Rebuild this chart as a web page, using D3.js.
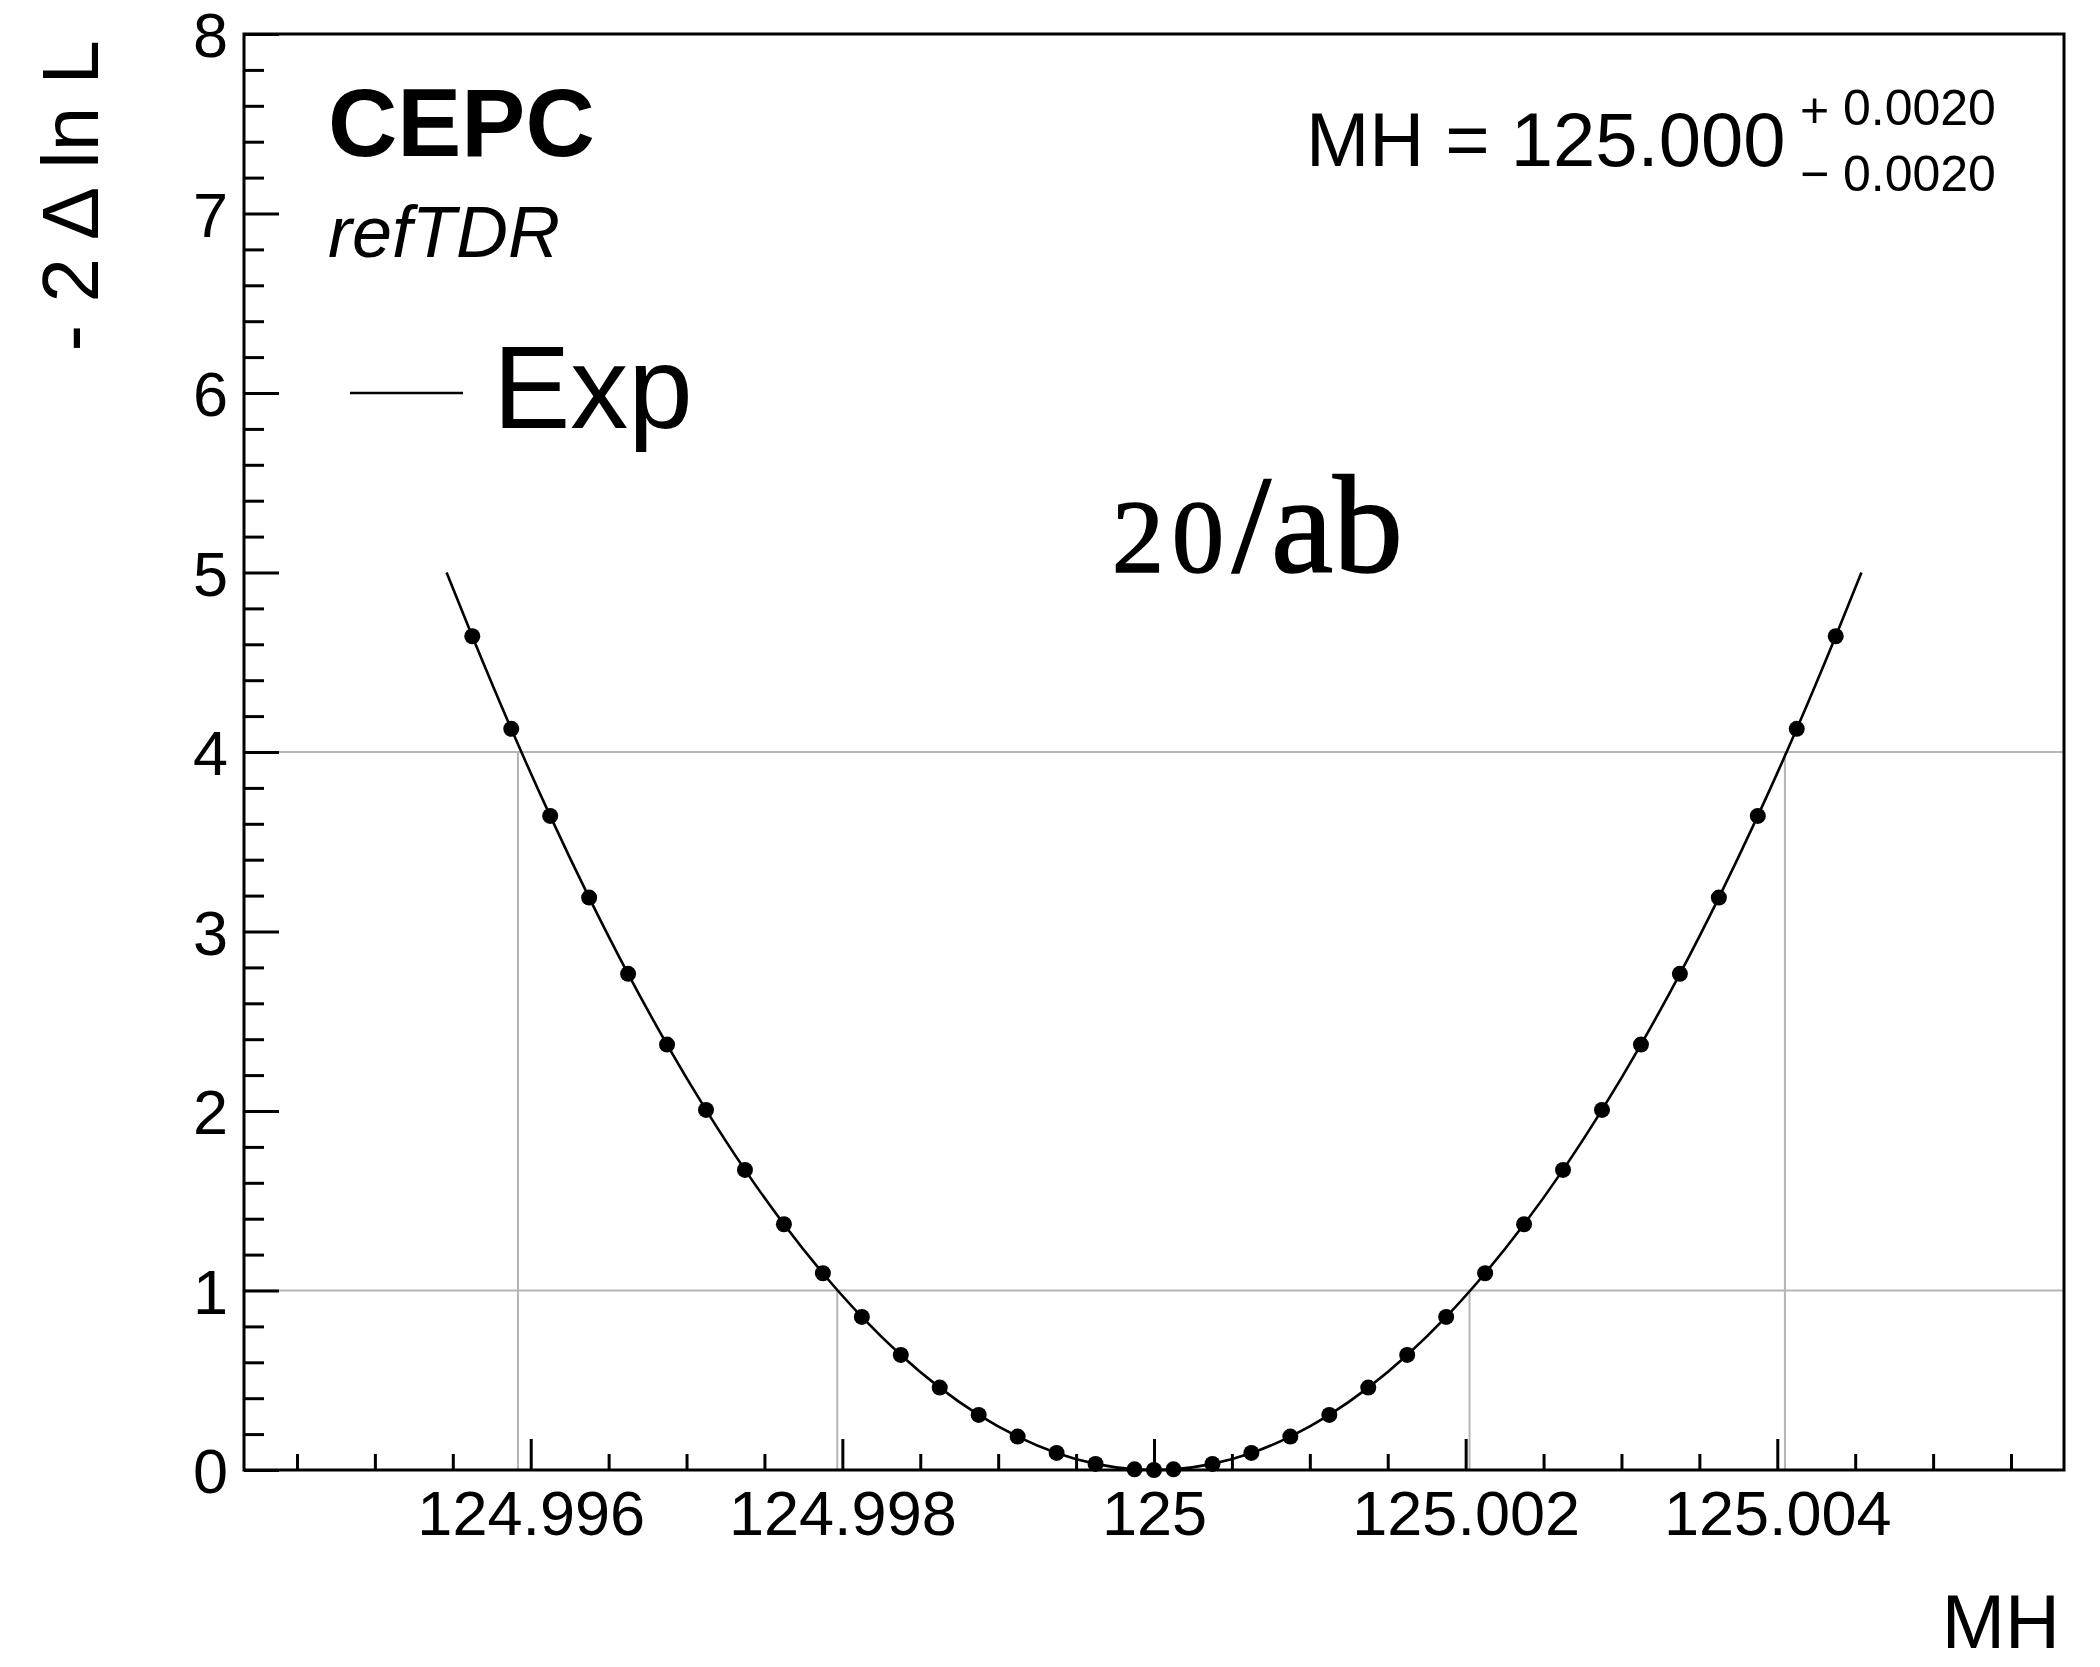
<!DOCTYPE html>
<html>
<head>
<meta charset="utf-8">
<script src="https://cdn.jsdelivr.net/npm/d3@7"></script>
<style>
  html, body { margin: 0; padding: 0; background: #fff; }
  svg { display: block; }
</style>
</head>
<body>
<svg id="chart"></svg>
<script>
// -2 Delta ln L scan over MH (expected, 20/ab)
const scanMH = [
  124.995625, 124.995875, 124.996125, 124.996375, 124.996625, 124.996875,
  124.997125, 124.997375, 124.997625, 124.997875, 124.998125, 124.998375,
  124.998625, 124.998875, 124.999125, 124.999375, 124.999625, 124.999875,
  125.000000,
  125.000125, 125.000375, 125.000625, 125.000875, 125.001125, 125.001375,
  125.001625, 125.001875, 125.002125, 125.002375, 125.002625, 125.002875,
  125.003125, 125.003375, 125.003625, 125.003875, 125.004125, 125.004375
];
const scanNLL = [
  4.645, 4.129, 3.644, 3.189, 2.764, 2.370,
  2.006, 1.672, 1.369, 1.096, 0.853, 0.641,
  0.459, 0.307, 0.186, 0.095, 0.034, 0.004,
  0.000,
  0.004, 0.034, 0.095, 0.186, 0.307, 0.459,
  0.641, 0.853, 1.096, 1.369, 1.672, 2.006,
  2.370, 2.764, 3.189, 3.644, 4.129, 4.645
];

// the fitted curve runs on to -2 Delta ln L = 5 at both ends
const curveStartMH = 124.99546, curveEndMH = 125.00454;
const curveEndNLL = 5.0;

// 1 sigma and 2 sigma levels and where the curve crosses them
const levels = [1, 4];
const crossLow = [124.997967, 124.995918];
const crossHigh = [125.002025, 125.004049];

// axes
const xDomain = [124.99416, 125.00584];
const yDomain = [0, 8];
const xMajor = [124.996, 124.998, 125.000, 125.002, 125.004];
const xMajorLabels = ["124.996", "124.998", "125", "125.002", "125.004"];
const xMinor = [124.9945, 124.9950, 124.9955, 124.9965, 124.9970, 124.9975,
                124.9985, 124.9990, 124.9995, 125.0005, 125.0010, 125.0015,
                125.0025, 125.0030, 125.0035, 125.0045, 125.0050, 125.0055];
const yMajor = [0, 1, 2, 3, 4, 5, 6, 7, 8];
const yMinor = [0.2, 0.4, 0.6, 0.8, 1.2, 1.4, 1.6, 1.8, 2.2, 2.4, 2.6, 2.8,
                3.2, 3.4, 3.6, 3.8, 4.2, 4.4, 4.6, 4.8, 5.2, 5.4, 5.6, 5.8,
                6.2, 6.4, 6.6, 6.8, 7.2, 7.4, 7.6, 7.8];

// text
const experiment = "CEPC";
const subLabel = "refTDR";
const legendLabel = "Exp";
const lumiNumber = "20";
const lumiUnit = "/ab";
const fitText = "MH = 125.000";
const errUp = "0.0020", errDown = "0.0020";
const xTitle = "MH";
const yTitle = "- 2 \u0394 ln L";

const W = 2100, H = 1667;
const frame = { left: 244, right: 2064, top: 34, bottom: 1470 };
const sans = "'Liberation Sans', Arial, Helvetica, sans-serif";
const serif = "'Liberation Serif', 'Times New Roman', serif";

const svg = d3.select("#chart").attr("width", W).attr("height", H)
  .attr("viewBox", `0 0 ${W} ${H}`);
svg.append("rect").attr("width", W).attr("height", H).attr("fill", "#fff");

const x = d3.scaleLinear().domain(xDomain).range([frame.left, frame.right]);
const y = d3.scaleLinear().domain(yDomain).range([frame.bottom, frame.top]);

// reference lines at the 1 and 4 levels
const grid = svg.append("g").attr("stroke", "#b5b5b5").attr("stroke-width", 2).attr("fill", "none");
levels.forEach((lv, i) => {
  grid.append("line").attr("x1", x(xDomain[0])).attr("x2", x(xDomain[1]))
    .attr("y1", y(lv)).attr("y2", y(lv));
  [crossLow[i], crossHigh[i]].forEach(cx => {
    grid.append("line").attr("x1", x(cx)).attr("x2", x(cx))
      .attr("y1", y(0)).attr("y2", y(lv));
  });
});

// scan curve
const curvePts = [[curveStartMH, curveEndNLL]]
  .concat(scanMH.map((m, i) => [m, scanNLL[i]]))
  .concat([[curveEndMH, curveEndNLL]]);
const line = d3.line().x(d => x(d[0])).y(d => y(d[1])).curve(d3.curveMonotoneX);
svg.append("path").datum(curvePts).attr("d", line)
  .attr("fill", "none").attr("stroke", "#000").attr("stroke-width", 2.6);

// scan points
svg.append("g").selectAll("circle").data(scanMH).join("circle")
  .attr("cx", d => x(d)).attr("cy", (d, i) => y(scanNLL[i])).attr("r", 8)
  .attr("fill", "#000");

// axes: ticks point into the frame
const xAxis = d3.axisBottom(x).tickValues(xMajor).tickSize(-31)
  .tickFormat((d, i) => xMajorLabels[i]).tickPadding(0);
const gx = svg.append("g").attr("transform", `translate(0,${frame.bottom})`).call(xAxis);
gx.select(".domain").remove();
gx.selectAll(".tick line").attr("stroke", "#000").attr("stroke-width", 3);
gx.selectAll(".tick text").attr("font-family", sans).attr("font-size", 63)
  .attr("fill", "#000").attr("y", 65).attr("dy", 0);

const gxm = svg.append("g").attr("transform", `translate(0,${frame.bottom})`)
  .call(d3.axisBottom(x).tickValues(xMinor).tickSize(-16).tickFormat(""));
gxm.select(".domain").remove();
gxm.selectAll(".tick line").attr("stroke", "#000").attr("stroke-width", 3);

const yAxis = d3.axisLeft(y).tickValues(yMajor).tickSize(-35)
  .tickFormat(d3.format("d")).tickPadding(0);
const gy = svg.append("g").attr("transform", `translate(${frame.left},0)`).call(yAxis);
gy.select(".domain").remove();
gy.selectAll(".tick line").attr("stroke", "#000").attr("stroke-width", 3);
gy.selectAll(".tick text").attr("font-family", sans).attr("font-size", 63)
  .attr("fill", "#000").attr("x", -16).attr("dy", "0.36em");

const gym = svg.append("g").attr("transform", `translate(${frame.left},0)`)
  .call(d3.axisLeft(y).tickValues(yMinor).tickSize(-20).tickFormat(""));
gym.select(".domain").remove();
gym.selectAll(".tick line").attr("stroke", "#000").attr("stroke-width", 3);

// frame
svg.append("rect").attr("x", frame.left).attr("y", frame.top)
  .attr("width", frame.right - frame.left).attr("height", frame.bottom - frame.top)
  .attr("fill", "none").attr("stroke", "#000").attr("stroke-width", 3);

// axis titles
svg.append("text").attr("x", 2060).attr("y", 1648).attr("text-anchor", "end")
  .attr("font-family", sans).attr("font-size", 76).text(xTitle);
svg.append("text").attr("transform", "translate(98,40) rotate(-90)")
  .attr("text-anchor", "end").attr("font-family", sans).attr("font-size", 80).text(yTitle);

// experiment labels
svg.append("text").attr("x", 328).attr("y", 156).attr("font-family", sans)
  .attr("font-weight", "bold").attr("font-size", 96).text(experiment);
svg.append("text").attr("x", 328).attr("y", 257).attr("font-family", sans)
  .attr("font-style", "italic").attr("font-size", 72).text(subLabel);

// legend
svg.append("line").attr("x1", 350).attr("x2", 463).attr("y1", 393).attr("y2", 393)
  .attr("stroke", "#000").attr("stroke-width", 2.6);
svg.append("text").attr("x", 493).attr("y", 428).attr("font-family", sans)
  .attr("font-size", 116).text(legendLabel);

// luminosity
const lumi = svg.append("text").attr("x", 1112).attr("y", 572).attr("font-family", serif)
  .attr("stroke", "#000").attr("stroke-width", 1.6);
lumi.append("tspan").attr("font-size", 104).attr("letter-spacing", 8).text(lumiNumber);
lumi.append("tspan").attr("font-size", 140).text(lumiUnit);

// fit result with asymmetric errors
svg.append("text").attr("x", 1306).attr("y", 166).attr("font-family", sans)
  .attr("font-size", 76).text(fitText);
svg.append("text").attr("x", 1800).attr("y", 127).attr("font-family", sans)
  .attr("font-size", 50).text("+");
svg.append("text").attr("x", 1843).attr("y", 125).attr("font-family", sans)
  .attr("font-size", 50).text(errUp);
svg.append("text").attr("x", 1800).attr("y", 191).attr("font-family", sans)
  .attr("font-size", 50).text("\u2212");
svg.append("text").attr("x", 1843).attr("y", 191).attr("font-family", sans)
  .attr("font-size", 50).text(errDown);
</script>
</body>
</html>
